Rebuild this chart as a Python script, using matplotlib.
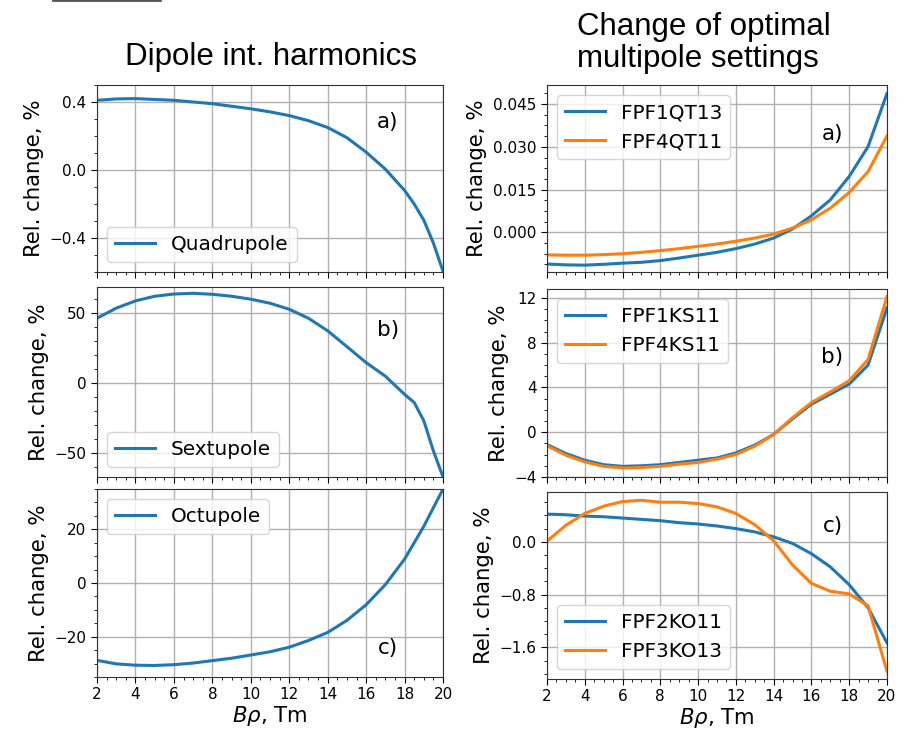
#!/usr/bin/env python3
"""Dipole harmonics vs. optimal multipole settings, six panels."""

import matplotlib
matplotlib.use("Agg")
import matplotlib.pyplot as plt
from matplotlib.lines import Line2D
from matplotlib.ticker import AutoMinorLocator, FuncFormatter

BRHO = [2, 3, 4, 5, 6, 7, 8, 9, 10, 11, 12, 13, 14, 15, 16, 17, 18, 19, 20]
BRHO_FINE = [2, 3, 4, 5, 6, 7, 8, 9, 10, 11, 12, 13, 14, 15, 16, 17, 18, 18.5, 19, 19.5, 20]

# left column: dipole integrated harmonics
QUADRUPOLE = [0.41, 0.418, 0.42, 0.415, 0.41, 0.40, 0.39, 0.375, 0.36, 0.342, 0.32,
              0.29, 0.25, 0.19, 0.105, 0.005, -0.12, -0.20, -0.295, -0.43, -0.596]
SEXTUPOLE = [46.4, 53.6, 58.8, 62.1, 63.7, 64.2, 63.5, 62.1, 60.0, 57.1, 52.8,
             46.4, 37.4, 26.1, 14.7, 5.0, -8.0, -13.8, -26.8, -48.4, -67.0]
OCTUPOLE = [-28.8, -30.1, -30.6, -30.7, -30.4, -29.8, -28.9, -28.0, -26.8, -25.6,
            -23.9, -21.4, -18.4, -13.9, -8.1, -0.6, 8.9, 21.1, 35.0]

# right column: change of optimal multipole settings
FPF1QT13 = [-0.0111, -0.0114, -0.0115, -0.0112, -0.0108, -0.0105, -0.0099, -0.0090,
            -0.0080, -0.0070, -0.0057, -0.0041, -0.0020, 0.0012, 0.0058, 0.0114,
            0.0196, 0.0301, 0.0487]
FPF4QT11 = [-0.0079, -0.0080, -0.0080, -0.0078, -0.0075, -0.0070, -0.0064, -0.0057,
            -0.0049, -0.0041, -0.0031, -0.0020, -0.0006, 0.0015, 0.0044, 0.0085,
            0.0140, 0.0213, 0.0338]
FPF1KS11 = [-1.1, -1.9, -2.5, -2.9, -3.05, -3.0, -2.9, -2.7, -2.5, -2.3, -1.85,
            -1.15, -0.2, 1.2, 2.5, 3.4, 4.3, 6.0, 11.1]
FPF4KS11 = [-1.2, -2.05, -2.65, -3.05, -3.2, -3.15, -3.05, -2.85, -2.7, -2.4, -2.0,
            -1.25, -0.2, 1.3, 2.65, 3.6, 4.6, 6.5, 12.1]
FPF2KO11 = [0.42, 0.41, 0.39, 0.38, 0.36, 0.34, 0.32, 0.29, 0.27, 0.24, 0.20,
            0.15, 0.075, -0.025, -0.18, -0.38, -0.65, -1.0, -1.53]
FPF3KO13 = [0.01, 0.25, 0.43, 0.54, 0.61, 0.63, 0.60, 0.60, 0.58, 0.53, 0.43,
            0.26, 0.015, -0.35, -0.63, -0.75, -0.79, -0.97, -1.96]

BLUE = "#1f77b4"
ORANGE = "#ff7f0e"

# (left, bottom, width, height) in figure fractions
PANELS = [
    {"rect": [0.1065, 0.6269, 0.3798, 0.2565], "x": BRHO_FINE,
     "series": [("Quadrupole", QUADRUPOLE, BLUE)], "ylim": (-0.6, 0.5),
     "yticks": [-0.4, 0.0, 0.4], "fmt": "{:.1f}", "legend": "lower left",
     "tag": "a)", "tag_xy": (0.84, 0.80)},
    {"rect": [0.1065, 0.3457, 0.3798, 0.2606], "x": BRHO_FINE,
     "series": [("Sextupole", SEXTUPOLE, BLUE)], "ylim": (-67, 68.7),
     "yticks": [-50, 0, 50], "fmt": "{:.0f}", "legend": "lower left",
     "tag": "b)", "tag_xy": (0.84, 0.775)},
    {"rect": [0.1065, 0.0713, 0.3798, 0.2579], "x": BRHO,
     "series": [("Octupole", OCTUPOLE, BLUE)], "ylim": (-35, 35),
     "yticks": [-20, 0, 20], "fmt": "{:.0f}", "legend": "upper left",
     "tag": "c)", "tag_xy": (0.84, 0.155)},
    {"rect": [0.6004, 0.6269, 0.3732, 0.2565], "x": BRHO,
     "series": [("FPF1QT13", FPF1QT13, BLUE), ("FPF4QT11", FPF4QT11, ORANGE)],
     "ylim": (-0.0139, 0.0517), "yticks": [0.0, 0.015, 0.030, 0.045], "fmt": "{:.3f}",
     "legend": "upper left", "tag": "a)", "tag_xy": (0.84, 0.74)},
    {"rect": [0.6004, 0.3457, 0.3732, 0.2579], "x": BRHO,
     "series": [("FPF1KS11", FPF1KS11, BLUE), ("FPF4KS11", FPF4KS11, ORANGE)],
     "ylim": (-4.0, 12.8), "yticks": [-4, 0, 4, 8, 12], "fmt": "{:.0f}",
     "legend": "upper left", "tag": "b)", "tag_xy": (0.84, 0.64)},
    {"rect": [0.6004, 0.0686, 0.3732, 0.2565], "x": BRHO,
     "series": [("FPF2KO11", FPF2KO11, BLUE), ("FPF3KO13", FPF3KO13, ORANGE)],
     "ylim": (-2.08, 0.755), "yticks": [-1.6, -0.8, 0.0], "fmt": "{:.1f}",
     "legend": "lower left", "tag": "c)", "tag_xy": (0.84, 0.82)},
]


def tick_formatter(fmt):
    def _fmt(value, _pos):
        text = fmt.format(value)
        if text.lstrip("-").strip("0.") == "":
            text = text.lstrip("-")
        return text.replace("-", "\u2212")
    return FuncFormatter(_fmt)


def draw_panel(fig, panel, bottom_row):
    ax = fig.add_axes(panel["rect"])
    for label, values, color in panel["series"]:
        ax.plot(panel["x"], values, color=color, lw=2.2, label=label)
    ax.set_xlim(2, 20)
    ax.set_ylim(*panel["ylim"])
    ax.set_xticks(range(2, 21, 2))
    ax.set_yticks(panel["yticks"])
    ax.yaxis.set_major_formatter(tick_formatter(panel["fmt"]))
    ax.xaxis.set_minor_locator(AutoMinorLocator(4))
    ax.yaxis.set_minor_locator(AutoMinorLocator())
    ax.grid(True, which="major", color="#b0b0b0", lw=1.0)
    ax.tick_params(labelsize=11, length=4)
    ax.tick_params(which="minor", length=2)
    for spine in ax.spines.values():
        spine.set_color("#333333")
    ax.set_ylabel("Rel. change, %", fontsize=15.3)
    if bottom_row:
        ax.set_xlabel(r"$B\rho$, Tm", fontsize=15.3, labelpad=1)
    else:
        ax.tick_params(labelbottom=False)
    ax.legend(loc=panel["legend"], fontsize=14.4)
    tx, ty = panel["tag_xy"]
    ax.text(tx, ty, panel["tag"], transform=ax.transAxes, fontsize=15.5,
            ha="center", va="center")
    return ax


def main():
    fig = plt.figure(figsize=(9.11, 7.29), dpi=100)

    for i, panel in enumerate(PANELS):
        draw_panel(fig, panel, bottom_row=(i % 3 == 2))

    title_font = {"family": ["Liberation Sans", "DejaVu Sans"], "fontsize": 22.5}
    fig.text(0.1372, 1 - 65 / 729, "Dipole int. harmonics", ha="left",
             va="baseline", **title_font)
    fig.text(0.6334, 1 - 35 / 729, "Change of optimal", ha="left",
             va="baseline", **title_font)
    fig.text(0.6334, 1 - 67 / 729, "multipole settings", ha="left",
             va="baseline", **title_font)

    # leftover frame edge at the very top of the cropped figure
    fig.add_artist(Line2D([53 / 911, 160 / 911], [0.9995, 0.9995],
                          transform=fig.transFigure, color="#555555", lw=2))

    fig.savefig("out.png", dpi=100)
    plt.close(fig)


if __name__ == "__main__":
    main()
